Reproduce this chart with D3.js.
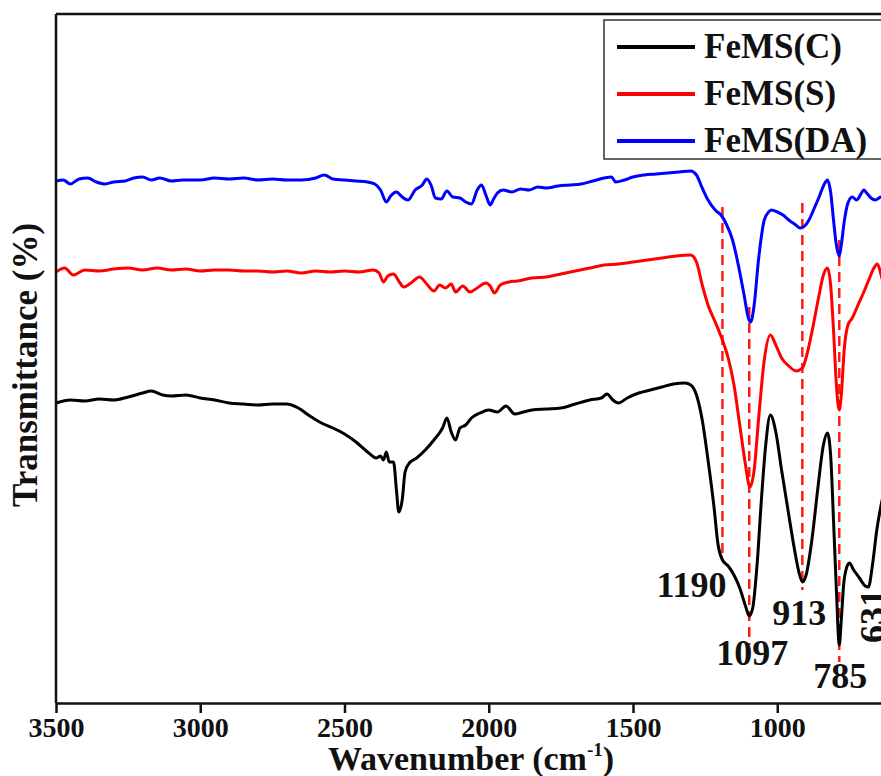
<!DOCTYPE html>
<html lang="en">
<head>
  <meta charset="UTF-8">
  <script src="https://cdn.jsdelivr.net/npm/d3@7"></script>
  <title>FTIR FeMS</title>
  <style>
    body { margin: 0; background: #fff; overflow: hidden; }
    text { font-family: "Liberation Serif", "Times New Roman", serif; font-weight: bold; fill: #111; }
  </style>
</head>
<body>
<script>
  // wavenumber (cm-1) and transmittance (offset, a.u.)
  var wnC = [3500,3450,3400,3350,3300,3250,3200,3170,3130,3100,3050,3000,2950,2900,2850,2800,2750,2700,2660,2620,2580,2540,2500,2460,2420,2390,2375,2365,2355,2345,2330,2320,2312,2300,2290,2275,2250,2220,2190,2160,2145,2130,2115,2100,2080,2060,2030,2000,1970,1940,1910,1880,1850,1800,1750,1700,1650,1610,1590,1570,1550,1520,1480,1440,1400,1360,1320,1300,1280,1260,1240,1220,1205,1190,1170,1150,1130,1110,1097,1085,1070,1055,1040,1024,1005,985,960,940,925,913,900,880,860,840,826,815,805,795,785,778,770,760,750,735,715,695,684,670,655,640,620];
  var tC = [30.4,30.7,30.6,30.8,30.7,31.0,31.4,31.6,31.2,31.1,31.2,30.9,30.7,30.4,30.3,30.2,30.3,30.3,29.9,29.1,28.4,27.9,27.3,26.5,25.5,24.9,25.1,24.7,25.5,24.5,24.5,21.7,19.5,20.7,23.5,24.4,24.9,25.7,26.7,27.9,28.9,27.5,26.7,27.9,28.2,28.9,29.4,29.7,29.5,30.1,29.3,29.5,29.7,29.8,29.9,30.3,30.7,30.9,31.3,30.7,30.4,30.9,31.4,31.7,32.0,32.3,32.4,32.2,31.2,28.7,24.7,20.2,16.2,14.7,14.1,13.2,11.9,10.1,9.1,9.9,14.2,20.7,26.2,29.2,27.5,23.7,19.2,15.7,13.5,12.5,13.2,16.7,21.7,26.2,27.4,25.2,18.7,11.7,6.2,8.7,12.2,13.9,14.4,13.7,12.9,12.1,12.0,14.2,17.7,20.2,22.7];

  var wnS = [3500,3470,3440,3400,3350,3300,3250,3200,3150,3100,3050,3000,2950,2900,2850,2800,2750,2700,2650,2600,2550,2500,2450,2400,2380,2365,2350,2330,2310,2295,2270,2240,2215,2190,2170,2150,2130,2115,2090,2065,2040,2010,1995,1980,1960,1930,1900,1850,1800,1750,1700,1650,1600,1550,1500,1450,1400,1350,1300,1280,1260,1240,1215,1190,1170,1150,1130,1110,1095,1080,1065,1045,1024,1005,985,960,935,913,895,875,855,840,826,815,805,795,785,778,768,755,740,720,700,680,665,653,640,625];
  var tS = [43.5,43.9,43.2,43.7,43.6,43.8,43.9,43.7,43.9,43.7,43.8,43.6,43.7,43.7,43.6,43.6,43.5,43.6,43.4,43.6,43.5,43.6,43.5,43.7,43.4,42.5,43.1,43.3,42.5,42.0,42.4,43.0,42.3,41.6,42.2,41.9,42.3,41.5,42.1,41.5,41.9,42.4,42.1,41.4,42.2,42.5,42.6,42.9,43.0,43.3,43.6,43.9,44.2,44.3,44.5,44.7,44.9,45.1,45.2,44.5,42.2,40.2,38.5,36.7,34.9,32.2,28.2,24.2,22.0,23.7,28.7,34.7,37.2,36.2,34.9,34.1,33.6,33.9,35.5,38.2,41.2,43.2,43.9,42.2,37.7,32.2,29.7,31.2,35.7,38.2,38.9,40.2,41.5,42.9,43.9,44.3,43.2,41.5];

  var wnDA = [3500,3475,3450,3420,3390,3360,3330,3300,3260,3230,3200,3170,3140,3100,3060,3000,2950,2900,2850,2800,2750,2700,2650,2600,2570,2540,2500,2460,2420,2395,2375,2355,2340,2320,2300,2280,2255,2230,2215,2200,2185,2165,2145,2125,2100,2080,2060,2040,2025,2010,1995,1985,1970,1950,1920,1890,1860,1830,1800,1760,1720,1680,1640,1600,1575,1560,1530,1500,1460,1420,1380,1340,1300,1280,1260,1240,1215,1195,1175,1155,1135,1115,1100,1092,1080,1065,1045,1030,1020,1000,980,960,940,920,905,890,870,855,840,826,815,805,795,785,778,768,755,740,725,710,700,690,675,660,640,620];
  var tDA = [52.6,52.7,52.3,52.8,52.9,52.5,52.3,52.5,52.6,52.9,53.0,52.7,52.9,52.6,52.7,52.7,52.9,52.8,52.9,52.7,52.8,52.7,52.7,52.9,53.2,52.8,52.7,52.6,52.5,52.3,51.7,50.5,51.1,51.5,51.0,50.7,51.7,52.2,52.8,52.2,50.9,50.8,51.6,51.0,50.9,50.5,50.3,51.7,52.2,51.2,50.2,50.7,51.4,51.7,51.5,51.8,51.7,52.0,51.9,52.1,52.2,52.3,52.6,52.9,53.0,52.5,52.7,53.0,53.2,53.3,53.4,53.5,53.6,53.2,51.9,50.7,49.7,49.2,48.2,46.7,44.2,41.2,38.9,38.5,40.2,44.7,48.7,49.5,49.7,49.5,49.2,48.7,48.3,47.9,48.1,48.7,50.0,51.0,52.1,52.7,51.5,48.7,46.2,45.1,46.2,48.5,50.4,51.0,50.7,51.3,51.7,51.4,50.9,50.7,51.0,50.7];

  var seriesNames = ["FeMS(C)", "FeMS(S)", "FeMS(DA)"];
  var seriesColors = ["#000000", "#ff0000", "#0000ff"];

  // marked bands: wavenumber, dashed guide from / to (transmittance units)
  var bands = [1190, 1097, 913, 785];
  var bandTop = [50.0, 40.0, 50.4, 46.7];
  var bandBottom = [15.0, 6.2, 11.7, 4.5];

  var xTicks = [3500, 3000, 2500, 2000, 1500, 1000];

  var width = 881, height = 776;
  var margin = {left: 56, top: 14};
  var axisY = 703;

  var x = d3.scaleLinear().domain([3500, 500]).range([margin.left, margin.left + 3000 * 0.2885]);
  var y = d3.scaleLinear().domain([0, 69.3]).range([707, margin.top]);

  var svg = d3.select("body").append("svg")
    .attr("width", width)
    .attr("height", height);

  //dashed guide lines under the spectra
  svg.append("g").selectAll("line").data(bands).enter().append("line")
    .attr("x1", function(d){ return x(d); })
    .attr("x2", function(d){ return x(d); })
    .attr("y1", function(d, i){ return y(bandTop[i]); })
    .attr("y2", function(d, i){ return y(bandBottom[i]); })
    .attr("stroke", "#ff1a1a")
    .attr("stroke-width", 2.5)
    .attr("stroke-dasharray", "10,6");

  //spectra
  var spectra = [
    {wn: wnC, t: tC},
    {wn: wnS, t: tS},
    {wn: wnDA, t: tDA}
  ];
  var line = d3.line()
    .x(function(d){ return x(d[0]); })
    .y(function(d){ return y(d[1]); })
    .curve(d3.curveMonotoneX);

  svg.append("g").selectAll("path").data(spectra).enter().append("path")
    .attr("d", function(s){ return line(d3.zip(s.wn, s.t).reverse()); })
    .attr("fill", "none")
    .attr("stroke", function(s, i){ return seriesColors[i]; })
    .attr("stroke-width", 3)
    .attr("stroke-linejoin", "round");

  //frame: top and left
  svg.append("line")
    .attr("x1", margin.left).attr("x2", width + 60)
    .attr("y1", margin.top).attr("y2", margin.top)
    .attr("stroke", "#111").attr("stroke-width", 2.5);
  svg.append("line")
    .attr("x1", margin.left).attr("x2", margin.left)
    .attr("y1", margin.top).attr("y2", axisY)
    .attr("stroke", "#111").attr("stroke-width", 2.5);

  //x axis
  var xAxis = svg.append("g")
    .attr("transform", "translate(0," + axisY + ")")
    .attr("font-family", null)
    .call(d3.axisBottom(x).tickValues(xTicks).tickFormat(d3.format("d"))
      .tickSize(10).tickPadding(4).tickSizeOuter(0));
  xAxis.select(".domain").attr("stroke", "#111").attr("stroke-width", 2.5);
  xAxis.selectAll(".tick line").attr("stroke", "#111").attr("stroke-width", 2.5);
  xAxis.selectAll(".tick text").attr("font-size", 28).attr("fill", "#111");

  //axis titles
  var xTitle = svg.append("text")
    .attr("x", 471).attr("y", 770)
    .attr("text-anchor", "middle")
    .attr("font-size", 34);
  xTitle.append("tspan").text("Wavenumber (cm");
  xTitle.append("tspan").attr("font-size", 19).attr("dy", -14).text("-1");
  xTitle.append("tspan").attr("dy", 14).text(")");

  svg.append("text")
    .attr("transform", "translate(37,365) rotate(-90)")
    .attr("text-anchor", "middle")
    .attr("font-size", 35)
    .text("Transmittance (%)");

  //band labels
  var bandLabels = [
    {text: "1190", wn: 1190, t: 11.0, dx: -31},
    {text: "1097", wn: 1097, t: 4.2, dx: 3},
    {text: "913", wn: 913, t: 8.2, dx: -3},
    {text: "785", wn: 785, t: 1.9, dx: 1}
  ];
  svg.append("g").selectAll("text").data(bandLabels).enter().append("text")
    .attr("x", function(d){ return x(d.wn) + d.dx; })
    .attr("y", function(d){ return y(d.t); })
    .attr("text-anchor", "middle")
    .attr("font-size", 36)
    .text(function(d){ return d.text; });

  svg.append("text")
    .attr("transform", "translate(" + (x(631) + 1) + "," + y(9.1) + ") rotate(-90)")
    .attr("text-anchor", "middle")
    .attr("font-size", 36)
    .text("631");

  //legend
  var lg = svg.append("g").attr("transform", "translate(604,20)");
  lg.append("rect")
    .attr("width", 320).attr("height", 139)
    .attr("fill", "#fff")
    .attr("stroke", "#333").attr("stroke-width", 1.5);
  var items = lg.selectAll("g.item").data(seriesNames).enter().append("g")
    .attr("class", "item")
    .attr("transform", function(d, i){ return "translate(0," + (27 + i * 47) + ")"; });
  items.append("line")
    .attr("x1", 13).attr("x2", 91)
    .attr("stroke", function(d, i){ return seriesColors[i]; })
    .attr("stroke-width", 4);
  items.append("text")
    .attr("x", 100).attr("y", 11)
    .attr("font-size", 35)
    .text(function(d){ return d; });
</script>
</body>
</html>
